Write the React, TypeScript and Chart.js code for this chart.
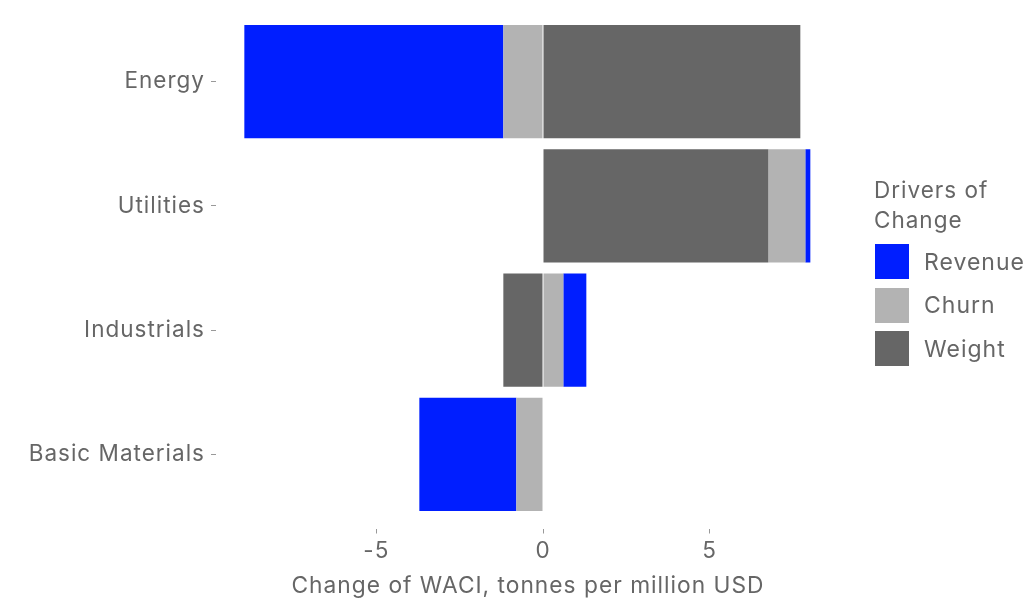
import React, { useEffect, useRef } from "react";
import { Chart, registerables } from "chart.js";

Chart.register(...registerables);

const categories = ["Energy", "Utilities", "Industrials", "Basic Materials"];
const revenue = [-7.77, 0.15, 0.69, -2.91];
const churn = [-1.19, 1.11, 0.61, -0.8];
const weight = [7.72, 6.76, -1.19, 0];
const xTicks = [-5, 0, 5];

const legendTitle = ["Drivers of", "Change"];
const seriesNames = ["Revenue", "Churn", "Weight"];
const seriesColors = ["#001EFF", "#B3B3B3", "#666666"];

const FONT = "Inter";
const TEXT = "#666666";

const spacingPlugin = {
  id: "letterSpacing",
  afterInit(chart: any) {
    chart.ctx.letterSpacing = "1px";
  },
  beforeDraw(chart: any) {
    chart.ctx.letterSpacing = "1px";
  },
};

export default function App() {
  const ref = useRef<HTMLCanvasElement | null>(null);

  useEffect(() => {
    if (!ref.current) return;
    const chart = new Chart(ref.current, {
      type: "bar",
      plugins: [spacingPlugin],
      data: {
        labels: categories,
        datasets: [
          { label: seriesNames[2], data: weight, backgroundColor: seriesColors[2] },
          { label: seriesNames[1], data: churn, backgroundColor: seriesColors[1] },
          { label: seriesNames[0], data: revenue, backgroundColor: seriesColors[0] },
        ],
      },
      options: {
        indexAxis: "y",
        animation: false,
        responsive: false,
        maintainAspectRatio: false,
        layout: { padding: { left: 0, top: 16, right: 217, bottom: 0 } },
        datasets: { bar: { categoryPercentage: 1, barPercentage: 0.91 } },
        plugins: { legend: { display: false }, tooltip: { enabled: false } },
        scales: {
          x: {
            type: "linear",
            stacked: true,
            min: -8.97,
            max: 8.07,
            afterBuildTicks: (s: any) => {
              s.ticks = xTicks.map((v) => ({ value: v }));
            },
            afterFit: (s: any) => {
              s.height = 86.5;
            },
            border: { display: false },
            grid: {
              drawOnChartArea: false,
              drawTicks: true,
              tickLength: 17,
              tickBorderDash: [0, 12, 5, 500],
              tickColor: "#999999",
              tickWidth: 1,
            },
            ticks: {
              color: TEXT,
              font: { family: FONT, size: 22.5 },
              padding: 4.5,
              maxRotation: 0,
              callback: (v: any) => String(v),
            },
            title: {
              display: true,
              text: "Change of WACI, tonnes per million USD",
              color: TEXT,
              font: { family: FONT, size: 22.75 },
              padding: { top: 0, bottom: 3 },
            },
          },
          y: {
            stacked: true,
            afterFit: (s: any) => {
              s.width = 244;
            },
            border: { display: false },
            grid: {
              offset: false,
              drawOnChartArea: false,
              drawTicks: true,
              tickLength: 33,
              tickBorderDash: [5, 500],
              tickColor: "#999999",
              tickWidth: 1,
            },
            ticks: {
              color: TEXT,
              font: { family: FONT, size: 22.5 },
              padding: 6,
            },
          },
        },
      },
    });
    return () => chart.destroy();
  }, []);

  const legendItems = [0, 1, 2];
  return (
    <div style={{ position: "absolute", left: 0, top: 0, width: 1029, height: 603, background: "#fff" }}>
      <canvas ref={ref} width={1029} height={603} style={{ position: "absolute", left: 0, top: 0 }} />
      <div
        style={{
          position: "absolute",
          left: 874,
          top: 175,
          fontFamily: FONT,
          fontSize: 22.5,
          lineHeight: "30px",
          letterSpacing: "1px",
          color: TEXT,
        }}
      >
        {legendTitle.map((t) => (
          <div key={t}>{t}</div>
        ))}
      </div>
      {legendItems.map((i) => (
        <div
          key={seriesNames[i]}
          style={{
            position: "absolute",
            left: 875,
            top: 244 + i * 43.5,
            height: 35,
            display: "flex",
            alignItems: "center",
            fontFamily: FONT,
            fontSize: 23,
            letterSpacing: "1px",
            color: TEXT,
          }}
        >
          <div style={{ width: 34, height: 35, background: seriesColors[i] }} />
          <div style={{ marginLeft: 15, whiteSpace: "nowrap" }}>{seriesNames[i]}</div>
        </div>
      ))}
    </div>
  );
}
